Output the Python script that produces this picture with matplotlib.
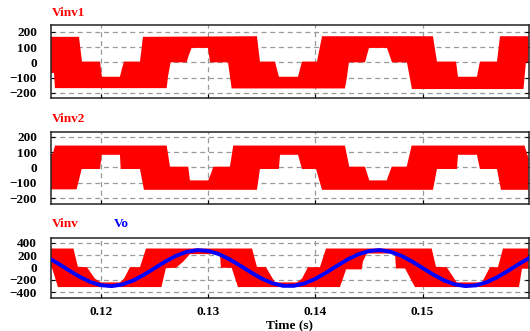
import numpy as np
import matplotlib
matplotlib.use('Agg')
import matplotlib.pyplot as plt

# Zeitachse / time range
t_start, t_end = 0.11534, 0.15988

# Vinv1 envelope (upper and lower edge of the PWM band)
v1_top_t = [0.11534, 0.11795, 0.11823, 0.11991, 0.12009, 0.12177, 0.12196, 0.12215,
            0.12364, 0.12392, 0.13455, 0.13483, 0.13623, 0.13660, 0.13838, 0.13875,
            0.14015, 0.14062, 0.15097, 0.15134, 0.15312, 0.15330, 0.15507, 0.15535,
            0.15694, 0.15722, 0.15988]
v1_top = [168, 168, 5, 5, -95, -95, -40, 5,
          5, 168, 172, 5, 5, -95, -95, 5,
          5, 172, 172, 5, 5, -95, -95, 5,
          5, 172, 172]
v1_bot_t = [0.11534, 0.11562, 0.11571, 0.12613, 0.12625, 0.12650, 0.12799, 0.12821,
            0.12846, 0.12998, 0.13017, 0.13185, 0.13219, 0.14276, 0.14295, 0.14313,
            0.14463, 0.14500, 0.14668, 0.14715, 0.14854, 0.14901, 0.15941, 0.15964,
            0.15988]
v1_bot = [-70, -70, -170, -170, -95, 0, 0, 50,
          95, 95, 0, 0, -172, -172, -95, 0,
          0, 95, 95, 0, 0, -176, -176, 0,
          0]

# Vinv2 envelope
v2_top_t = [0.11534, 0.11552, 0.11571, 0.12613, 0.12644, 0.12814, 0.12830, 0.13001,
            0.13026, 0.13048, 0.13203, 0.13234, 0.14276, 0.14316, 0.14463, 0.14503,
            0.14665, 0.14712, 0.14852, 0.14898, 0.15951, 0.15988]
v2_top = [90, 90, 142, 142, 5, 5, -84, -84,
          -40, 5, 5, 142, 142, 5, 5, -84,
          -84, 5, 5, 142, 142, 60]
v2_bot_t = [0.11534, 0.11773, 0.11820, 0.11991, 0.12007, 0.12177, 0.12184, 0.12364,
            0.12401, 0.13455, 0.13483, 0.13660, 0.13670, 0.13838, 0.13875, 0.14006,
            0.14062, 0.15097, 0.15134, 0.15321, 0.15330, 0.15507, 0.15535, 0.15694,
            0.15731, 0.15988]
v2_bot = [-142, -142, -10, -10, 82, 82, -10, -10,
          -145, -145, -10, -10, 82, 82, -10, -10,
          -145, -145, -10, -10, 82, 82, -10, -10,
          -145, -145]

# Vinv envelope
vi_top_t = [0.11534, 0.11743, 0.11785, 0.11869, 0.11944, 0.12000, 0.12177, 0.12215,
            0.12271, 0.12364, 0.12420, 0.13409, 0.13455, 0.13539, 0.13623, 0.13828,
            0.13875, 0.13931, 0.14043, 0.14099, 0.15085, 0.15125, 0.15225, 0.15318,
            0.15554, 0.15629, 0.15703, 0.15750, 0.15988]
vi_top = [305, 305, 10, 5, -180, -240, -240, -180,
          5, 5, 305, 305, 10, 5, -240, -240,
          -180, 5, 5, 305, 305, 10, 5, -240,
          -240, 5, 5, 305, 305]
vi_bot_t = [0.11534, 0.11543, 0.11599, 0.12564, 0.12606, 0.12700, 0.12765, 0.12830,
            0.13110, 0.13119, 0.13219, 0.13278, 0.14229, 0.14257, 0.14286, 0.14432,
            0.14444, 0.14481, 0.14743, 0.14752, 0.14836, 0.14929, 0.15899, 0.15927,
            0.15988]
vi_bot = [-5, -5, -315, -315, -10, -5, 90, 215,
          215, -5, -5, -315, -315, -180, -30, -30,
          100, 224, 224, -15, -15, -315, -315, -20,
          -20]

vo_t = [0.115 + 0.001 * k for k in range(46)]
vo = [162, 64, -45, -148, -232, -285, -300, -273, -210, -118,
      -12, 95, 187, 252, 279, 266, 215, 131, 28, -80,
      -179, -254, -295, -295, -256, -182, -84, 25, 128, 212,
      265, 280, 253, 190, 98, -8, -115, -207, -272, -299,
      -287, -236, -154, -51, 57, 157]

xticks = [0.12, 0.13, 0.14, 0.15]
xtick_labels = ['0.12', '0.13', '0.14', '0.15']

RED = '#ff0000'
BLUE = '#0000ff'
plt.rcParams['font.family'] = ['Liberation Serif', 'DejaVu Serif']
plt.rcParams['font.weight'] = 'bold'


def band(ax, tt, top, tb, bot):
    xs = np.concatenate([tt, tb[::-1]])
    ys = np.concatenate([top, bot[::-1]])
    ax.fill(xs, ys, color=RED, lw=0, zorder=2)


def style(ax, ylim, yticks):
    ax.set_xlim(t_start, t_end)
    ax.set_ylim(*ylim)
    ax.set_yticks(yticks)
    ax.set_xticks(xticks)
    ax.grid(True, ls=(0, (4, 3)), color='#999999', lw=0.9, zorder=1)
    ax.tick_params(axis='both', direction='in', length=3, width=0.8,
                   labelsize=9.5, pad=10, right=True)
    for lab in ax.get_yticklabels():
        lab.set_fontweight('bold')
    for sp in ax.spines.values():
        sp.set_linewidth(1.1)
        sp.set_color('#222222')


fig = plt.figure(figsize=(5.3, 3.31), dpi=100)
left, width = 51 / 530, 477.5 / 530
ax1 = fig.add_axes([left, 1 - 98 / 331, width, 73 / 331])
ax2 = fig.add_axes([left, 1 - 204.3 / 331, width, 72 / 331])
ax3 = fig.add_axes([left, 1 - 297.7 / 331, width, 60.2 / 331])

band(ax1, v1_top_t, v1_top, v1_bot_t, v1_bot)
style(ax1, (-235, 246), [-200, -100, 0, 100, 200])
ax1.set_xticklabels([])

band(ax2, v2_top_t, v2_top, v2_bot_t, v2_bot)
style(ax2, (-239, 228), [-200, -100, 0, 100, 200])
ax2.set_xticklabels([])

band(ax3, vi_top_t, vi_top, vi_bot_t, vi_bot)
ax3.plot(vo_t, vo, color=BLUE, lw=2.8, zorder=3)
style(ax3, (-486, 482), [-400, -200, 0, 200, 400])
ax3.set_xticklabels(xtick_labels, fontweight='bold')
ax3.tick_params(axis='x', pad=6)
ax3.set_xlabel('Time (s)', fontsize=9.5, fontweight='bold', labelpad=1)

fig.text(52 / 530, 1 - 13 / 331, 'Vinv1', color=RED, fontsize=9.5,
         fontweight='bold', va='center', ha='left')
fig.text(52 / 530, 1 - 119 / 331, 'Vinv2', color=RED, fontsize=9.5,
         fontweight='bold', va='center', ha='left')
fig.text(52 / 530, 1 - 224 / 331, 'Vinv', color=RED, fontsize=9.5,
         fontweight='bold', va='center', ha='left')
fig.text(114 / 530, 1 - 224 / 331, 'Vo', color=BLUE, fontsize=9.5,
         fontweight='bold', va='center', ha='left')

fig.savefig('out.png', dpi=100)
